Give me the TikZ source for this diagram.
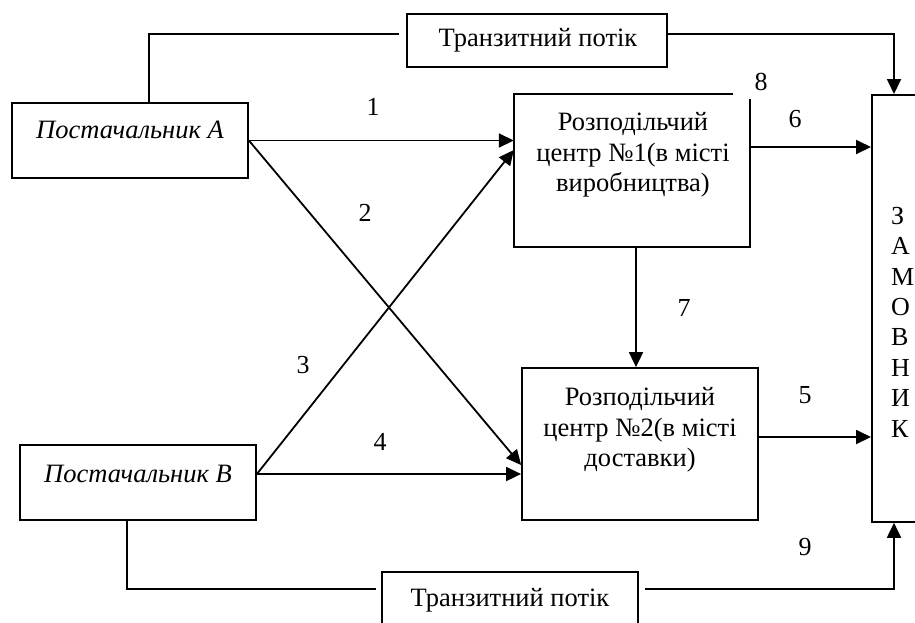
\documentclass[tikz,border=0pt]{standalone}
\usepackage{fontspec}
\setmainfont{Liberation Serif}
\usetikzlibrary{arrows.meta}
\begin{document}
\begin{tikzpicture}[x=1pt,y=-1pt,
  box/.style={draw,line width=1.8pt,inner sep=0pt},
  hidden/.style={draw=none,inner sep=0pt},
  txt/.style={font=\fontsize{26.5}{30.5}\selectfont,align=center,inner sep=0pt},
  itxt/.style={font=\fontsize{26.5}{30.5}\selectfont\itshape,inner sep=0pt},
  num/.style={font=\fontsize{26}{30}\selectfont,inner sep=0pt},
  conn/.style={line width=1.8pt},
  arr/.style={line width=1.8pt,-{Triangle[length=15pt,width=14pt]}}
]
\useasboundingbox (0,0) rectangle (915,622);
\fill[white] (0,0) rectangle (915,622);
\clip (0,0) rectangle (915,622);

% boxes
\node[box,minimum width=236pt,minimum height=75pt] (A) at (130,140.5) {};
\node[itxt] (At) at (130,130) {Постачальник A};
\node[box,minimum width=236pt,minimum height=75pt] (B) at (138,482.5) {};
\node[itxt] (Bt) at (138,474) {Постачальник B};

\node[box,minimum width=260pt,minimum height=53pt] (T1) at (537,40.5) {};
\node[txt] (T1t) at (538,40) {Транзитний потік};
\node[box,minimum width=256pt,minimum height=53pt] (T2) at (510,598.5) {};
\node[txt] (T2t) at (510,600) {Транзитний потік};

\node[hidden,minimum width=236pt,minimum height=153pt] (D1) at (632,170.5) {};
\draw[conn] ([xshift=-17pt]D1.north east) -- (D1.north west) -- (D1.south west) -- (D1.south east) -- ([yshift=-5pt]D1.north east);
\node[txt] (D1t) at (633,155) {Розподільчий\\центр №1(в місті\\виробництва)};

\node[box,minimum width=236pt,minimum height=152pt] (D2) at (640,444) {};
\node[txt] (D2t) at (640,430) {Розподільчий\\центр №2(в місті\\доставки)};

\node[box,anchor=north west,minimum width=100pt,minimum height=427pt] (C) at (871,94) {};
\node[txt,align=left,anchor=west,font=\fontsize{26}{30.4}\selectfont] (Ct) at (891,322) {З\\А\\М\\О\\В\\Н\\И\\К};

% connectors
\draw[arr] (A.east) -- (A.east -| D1.west);
\draw[arr] (A.east) -- ([yshift=-21pt]D2.west);
\coordinate (Bo) at ([yshift=8.5pt]B.east);
\draw[arr] (Bo) -- ([yshift=20.5pt]D1.west);
\draw[arr] (Bo) -- (Bo -| D2.west);
\coordinate (D1o) at ([yshift=23.5pt]D1.east);
\draw[arr] (D1o) -- (D1o -| C.west);
\coordinate (D2o) at ([yshift=7pt]D2.east);
\draw[arr] (D2o) -- (D2o -| C.west);
\coordinate (D1s) at ([xshift=4pt]D1.south);
\draw[arr] (D1s) -- (D1s |- D2.north);

\draw[conn] ([xshift=19pt]A.north) |- ([xshift=-7pt,yshift=6.5pt]T1.west);
\draw[arr] ([yshift=6.5pt]T1.east) -| ([xshift=23pt]C.north west);
\draw[conn] ([xshift=-11pt]B.south) |- ([xshift=-5pt,yshift=9.5pt]T2.west);
\draw[arr] ([xshift=6pt,yshift=9.5pt]T2.east) -| ([xshift=23pt]C.south west);

% labels
\node[num] (n1) at (373,107) {1};
\node[num] (n2) at (365,213) {2};
\node[num] (n3) at (303,365) {3};
\node[num] (n4) at (380,442) {4};
\node[num] (n5) at (805,395) {5};
\node[num] (n6) at (795,119) {6};
\node[num] (n7) at (684,308) {7};
\node[num] (n8) at (761,82) {8};
\node[num] (n9) at (805,547) {9};
\end{tikzpicture}
\end{document}
